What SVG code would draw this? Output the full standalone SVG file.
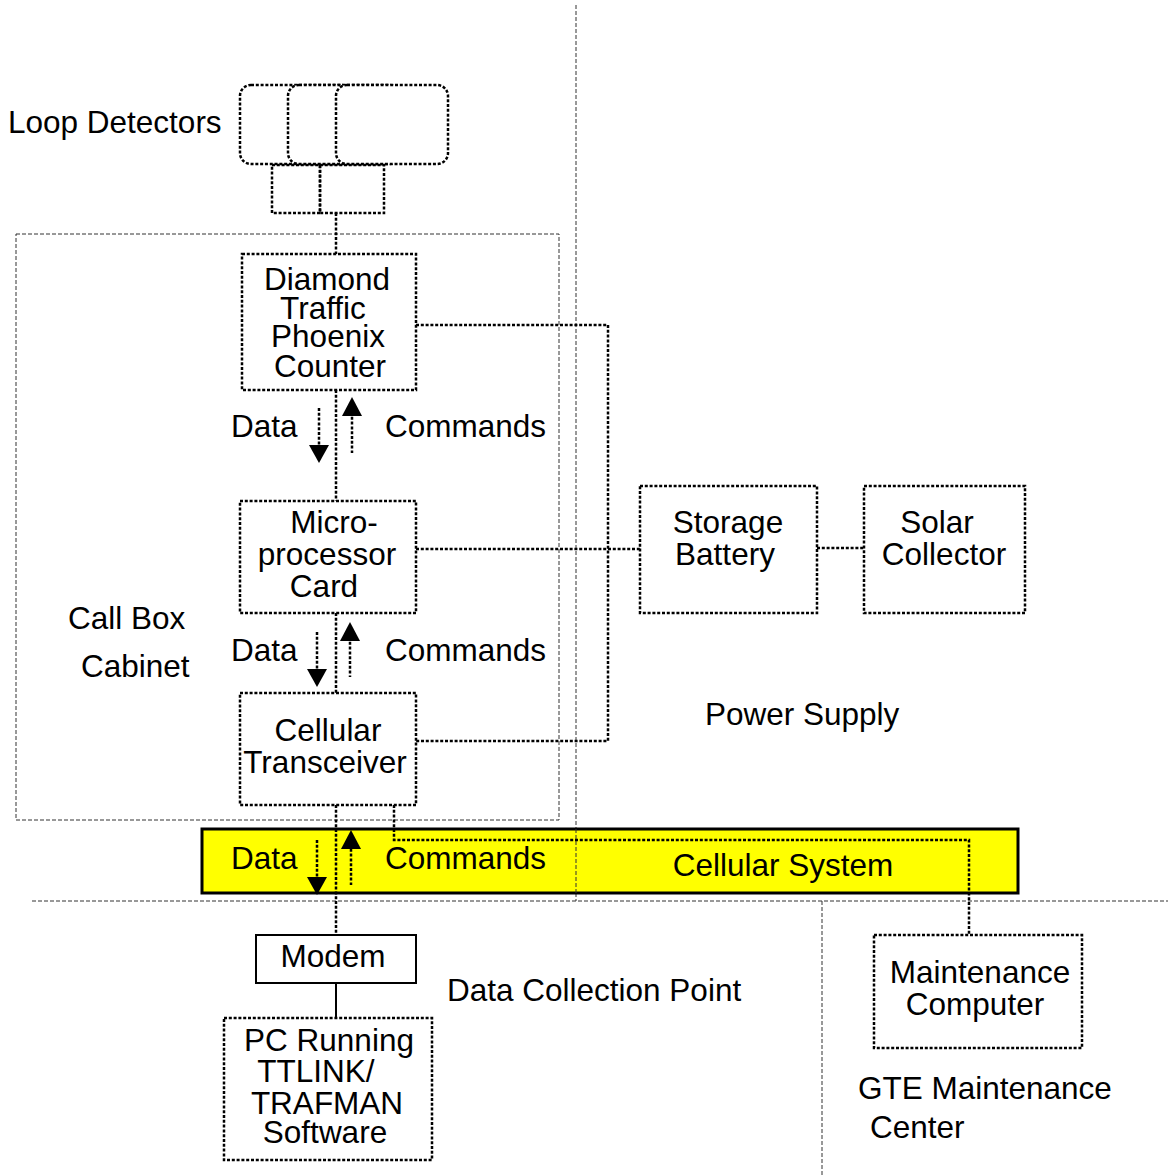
<svg xmlns="http://www.w3.org/2000/svg" width="1172" height="1176" viewBox="0 0 1172 1176">
<style>
text{font-family:"Liberation Sans",Arial,sans-serif;font-size:31.5px;fill:#000}
.dot{fill:none;stroke:#000;stroke-width:2.5;stroke-dasharray:3 1.8}
.dotw{fill:#fff;stroke:#000;stroke-width:2.5;stroke-dasharray:3 1.8}
.thin{fill:none;stroke:#333;stroke-width:1;stroke-dasharray:4 2}
.solid{fill:none;stroke:#000;stroke-width:2}
.head{fill:#000;stroke:none}
.c{text-anchor:middle}
</style>
<rect width="1172" height="1176" fill="#fff"/>
<g id="regions">
<line class="thin" x1="576" y1="5" x2="576" y2="901"/>
<line class="thin" x1="32" y1="901" x2="1168" y2="901"/>
<line class="thin" x1="822" y1="901" x2="822" y2="1176"/>
</g>
<g id="cellular-system">
<rect x="202" y="829" width="816" height="64" fill="#ffff00" stroke="#000" stroke-width="3"/>
<line class="thin" x1="576" y1="829" x2="576" y2="893"/>
<text x="783" y="876" class="c">Cellular System</text>
</g>
<g id="call-box-cabinet">
<rect class="thin" x="16" y="234" width="543" height="586"/>
<text x="68" y="629">Call Box</text>
<text x="81" y="677">Cabinet</text>
</g>
<g id="connectors">
<line class="dot" x1="336" y1="213" x2="336" y2="254"/>
<line class="dot" x1="336" y1="390" x2="336" y2="501"/>
<line class="dot" x1="336" y1="613" x2="336" y2="693"/>
<line class="dot" x1="336" y1="805" x2="336" y2="935"/>
<line class="solid" x1="336" y1="983" x2="336" y2="1018"/>
<polyline class="dot" points="416,325 608,325 608,741 416,741"/>
<line class="dot" x1="416" y1="549" x2="640" y2="549"/>
<line class="dot" x1="817" y1="548" x2="864" y2="548"/>
<polyline class="dot" points="394,805 394,840 969,840 969,935"/>
<line class="dot" x1="319" y1="408" x2="319" y2="448"/>
<path class="head" d="M309,445 L329,445 L319,463 Z"/>
<line class="dot" x1="352" y1="412" x2="352" y2="453"/>
<path class="head" d="M342,416 L362,416 L352,397 Z"/>
<line class="dot" x1="317" y1="632" x2="317" y2="672"/>
<path class="head" d="M307,669 L327,669 L317,687 Z"/>
<line class="dot" x1="350" y1="637" x2="350" y2="677"/>
<path class="head" d="M340,641 L360,641 L350,622 Z"/>
<line class="dot" x1="317" y1="840" x2="317" y2="880"/>
<path class="head" d="M307,877 L327,877 L317,895 Z"/>
<line class="dot" x1="351" y1="844" x2="351" y2="885"/>
<path class="head" d="M341,849 L361,849 L351,830 Z"/>
</g>
<g id="labels">
<text x="231" y="437">Data</text>
<text x="385" y="437">Commands</text>
<text x="231" y="661">Data</text>
<text x="385" y="661">Commands</text>
<text x="231" y="869">Data</text>
<text x="385" y="869">Commands</text>
<text x="705" y="725">Power Supply</text>
<text x="447" y="1001">Data Collection Point</text>
<text x="858" y="1099">GTE Maintenance</text>
<text x="870" y="1138">Center</text>
</g>
<g id="loop-detectors">
<rect class="dotw" x="240" y="85" width="112" height="79" rx="11"/>
<rect class="dotw" x="288" y="85" width="112" height="79" rx="11"/>
<rect class="dotw" x="336" y="85" width="112" height="79" rx="11"/>
<rect class="dot" x="272" y="165" width="48" height="48"/>
<rect class="dot" x="320" y="165" width="64" height="48"/>
<text x="8" y="133">Loop Detectors</text>
</g>
<g id="diamond-counter">
<rect class="dot" x="242" y="254" width="174" height="136"/>
<text x="327" y="290" class="c">Diamond</text>
<text x="323" y="319" class="c">Traffic</text>
<text x="328" y="347" class="c">Phoenix</text>
<text x="330" y="377" class="c">Counter</text>
</g>
<g id="microprocessor">
<rect class="dot" x="240" y="501" width="176" height="112"/>
<text x="334" y="533" class="c">Micro-</text>
<text x="327" y="565" class="c">processor</text>
<text x="324" y="597" class="c">Card</text>
</g>
<g id="cellular-transceiver">
<rect class="dot" x="240" y="693" width="176" height="112"/>
<text x="328" y="741" class="c">Cellular</text>
<text x="325" y="773" class="c">Transceiver</text>
</g>
<g id="storage-battery">
<rect class="dot" x="640" y="486" width="177" height="127"/>
<text x="728" y="533" class="c">Storage</text>
<text x="725" y="565" class="c">Battery</text>
</g>
<g id="solar-collector">
<rect class="dot" x="864" y="486" width="161" height="127"/>
<text x="937" y="533" class="c">Solar</text>
<text x="944" y="565" class="c">Collector</text>
</g>
<g id="modem">
<rect class="solid" x="256" y="935" width="160" height="48"/>
<text x="333" y="967" class="c">Modem</text>
</g>
<g id="pc">
<rect class="dot" x="224" y="1018" width="208" height="142"/>
<text x="329" y="1051" class="c">PC Running</text>
<text x="316" y="1082" class="c">TTLINK/</text>
<text x="327" y="1114" class="c">TRAFMAN</text>
<text x="325" y="1143" class="c">Software</text>
</g>
<g id="maintenance-computer">
<rect class="dot" x="874" y="935" width="208" height="113"/>
<text x="980" y="983" class="c">Maintenance</text>
<text x="975" y="1015" class="c">Computer</text>
</g>
</svg>
